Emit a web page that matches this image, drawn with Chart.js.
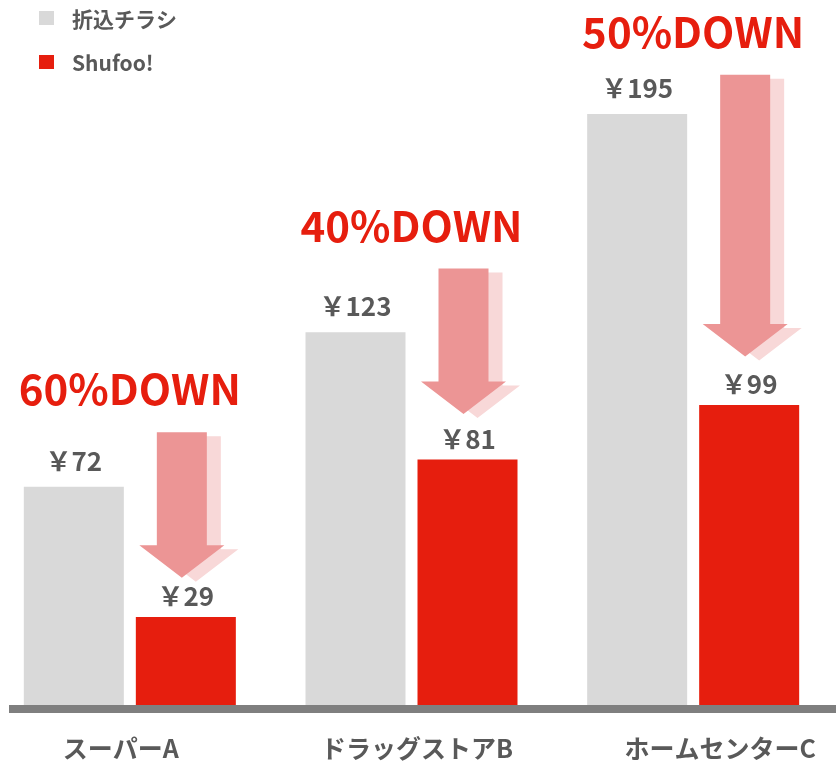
<!DOCTYPE html>
<html>
<head>
<meta charset="utf-8">
<script src="https://cdn.jsdelivr.net/npm/chart.js@4/dist/chart.umd.min.js"></script>
<style>
  html, body { margin: 0; padding: 0; background: #ffffff; overflow: hidden; width: 836px; height: 763px; }
  #wrap { position: absolute; left: -11px; top: 0; width: 858px; height: 763px; }
</style>
</head>
<body>
<div id="wrap"><canvas id="c" width="858" height="763"></canvas></div>
<script>
// ---- data ----
const categories = ['スーパーA', 'ドラッグストアB', 'ホームセンターC'];
const seriesNames = ['折込チラシ', 'Shufoo!'];
const flyerPrices = [72, 123, 195];
const shufooPrices = [29, 81, 99];
const downLabels = ['60%DOWN', '40%DOWN', '50%DOWN'];
const arrowFrom = [90, 144, 208];   // arrow start (price units)
const arrowTo = [42, 96, 115];      // arrow tip (price units)
const yMax = 230;

// ---- style ----
const GRAY = '#D9D9D9';
const RED = '#E61E0E';
const TEXT = '#595959';
const ARROW = '#EC9595';
const ARROW_SHADOW = '#F8D8D8';
const FONT = '"Noto Sans CJK JP", "Noto Sans", sans-serif';
const labelShift = [-9, 5.5, 27];

const decor = {
  id: 'decor',
  afterDatasetsDraw(chart) {
    const ctx = chart.ctx;
    const xs = chart.scales.x, ys = chart.scales.y;
    const area = chart.chartArea;
    const gray = chart.getDatasetMeta(0).data;
    const red = chart.getDatasetMeta(1).data;
    ctx.save();

    // axis line
    ctx.fillStyle = '#7F7F7F';
    ctx.fillRect(20, area.bottom, 827, 8);

    // arrows
    const drawArrow = (cx, top, tip, color) => {
      const headTop = tip - 32.5;
      ctx.beginPath();
      ctx.moveTo(cx - 25, top);
      ctx.lineTo(cx + 25, top);
      ctx.lineTo(cx + 25, headTop);
      ctx.lineTo(cx + 42.5, headTop);
      ctx.lineTo(cx, tip);
      ctx.lineTo(cx - 42.5, headTop);
      ctx.lineTo(cx - 25, headTop);
      ctx.closePath();
      ctx.fillStyle = color;
      ctx.fill();
    };
    categories.forEach((c, i) => {
      const cx = red[i].x - 4;
      const top = ys.getPixelForValue(arrowFrom[i]);
      const tip = ys.getPixelForValue(arrowTo[i]);
      drawArrow(cx + 14, top + 4, tip + 4, ARROW_SHADOW);
      drawArrow(cx, top, tip, ARROW);
    });

    // value labels
    ctx.fillStyle = TEXT;
    ctx.font = 'bold 26px ' + FONT;
    ctx.textAlign = 'center';
    ctx.textBaseline = 'alphabetic';
    flyerPrices.forEach((v, i) => ctx.fillText('￥' + v, gray[i].x, gray[i].y - 16));
    shufooPrices.forEach((v, i) => ctx.fillText('￥' + v, red[i].x, red[i].y - 11));

    // DOWN labels
    ctx.fillStyle = RED;
    ctx.font = 'bold 42px ' + FONT;
    downLabels.forEach((t, i) => {
      ctx.fillText(t, xs.getPixelForValue(i), ys.getPixelForValue(arrowFrom[i]) - 27);
    });

    // category labels
    ctx.fillStyle = TEXT;
    ctx.font = 'bold 25px ' + FONT;
    ctx.textBaseline = 'middle';
    categories.forEach((t, i) => {
      ctx.fillText(t, xs.getPixelForValue(i) + labelShift[i], 748);
    });

    // legend
    ctx.textAlign = 'left';
    ctx.font = 'bold 21px ' + FONT;
    const colors = [GRAY, RED];
    const rows = [18, 62];
    seriesNames.forEach((n, i) => {
      ctx.fillStyle = colors[i];
      ctx.fillRect(50, rows[i] - 7, 15, 14);
      ctx.fillStyle = TEXT;
      ctx.fillText(n, 83, rows[i] + 1);
    });

    ctx.restore();
  }
};

new Chart(document.getElementById('c'), {
  type: 'bar',
  data: {
    labels: categories,
    datasets: [
      { label: seriesNames[0], data: flyerPrices, backgroundColor: GRAY,
        categoryPercentage: 0.7953, barPercentage: 0.8929, borderWidth: 0 },
      { label: seriesNames[1], data: shufooPrices, backgroundColor: RED,
        categoryPercentage: 0.7953, barPercentage: 0.8929, borderWidth: 0 }
    ]
  },
  options: {
    responsive: false,
    animation: false,
    devicePixelRatio: 1,
    layout: { padding: { left: 0, right: 13, top: 8, bottom: 58 } },
    plugins: { legend: { display: false }, tooltip: { enabled: false } },
    scales: {
      x: { display: false },
      y: { display: false, min: 0, max: yMax }
    }
  },
  plugins: [decor]
});
</script>
</body>
</html>
